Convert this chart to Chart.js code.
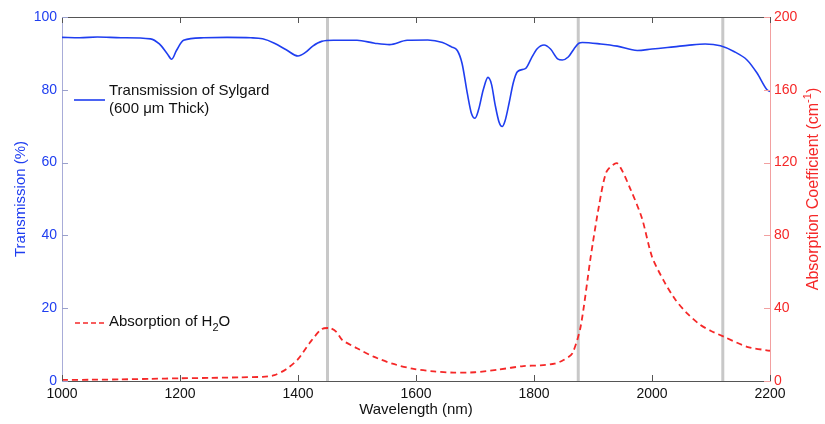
<!DOCTYPE html>
<html>
<head>
<meta charset="utf-8">
<script src="https://cdn.jsdelivr.net/npm/chart.js@4.4.1/dist/chart.umd.min.js"></script>
<style>
  html, body { margin: 0; padding: 0; background: #fff; }
  #wrap { width: 825px; height: 424px; }
</style>
</head>
<body>
<div id="wrap"><canvas id="chart" width="825" height="424"></canvas></div>
<script>
// transmission of Sylgard (left axis, %)
const wlTrans = [1000, 1030, 1060, 1100, 1150, 1165, 1178, 1186, 1194, 1206, 1240, 1280, 1320, 1340, 1360, 1380, 1400, 1412, 1425, 1440,
  1460, 1500, 1530, 1555, 1585, 1620, 1645, 1660, 1670, 1678, 1687, 1694, 1700, 1706, 1714, 1722, 1728, 1734, 1741, 1746,
  1751, 1758, 1765, 1772, 1786, 1795, 1805, 1817, 1828, 1840, 1848, 1858, 1868, 1876, 1882, 1913, 1941, 1975, 2000, 2026,
  2060, 2090, 2116, 2138, 2161, 2178, 2195, 2200];
const transmission = [94.4, 94.3, 94.5, 94.3, 94.0, 92.6, 90.0, 88.4, 90.8, 93.6, 94.3, 94.4, 94.3, 94.0, 92.8, 91.0, 89.3, 90.2, 92.0, 93.3,
  93.6, 93.6, 92.8, 92.4, 93.6, 93.7, 93.0, 91.8, 90.8, 87.3, 79.0, 73.5, 72.2, 74.5, 80.0, 83.4, 81.5, 76.0, 71.0, 69.9,
  71.5, 76.5, 82.0, 85.0, 85.9, 88.5, 91.2, 92.3, 91.2, 88.5, 88.2, 89.0, 91.3, 92.8, 93.0, 92.6, 92.0, 90.8, 91.2, 91.6,
  92.2, 92.6, 92.1, 90.6, 88.2, 84.6, 80.0, 79.5];

// absorption of water (right axis, cm^-1)
const wlAbs = [1000, 1050, 1100, 1150, 1200, 1250, 1300, 1340, 1360, 1380, 1400, 1420, 1440, 1455, 1465, 1475, 1500, 1528, 1560, 1596,
  1630, 1664, 1700, 1740, 1782, 1811, 1835, 1850, 1865, 1879, 1896, 1910, 1923, 1941, 1964, 1983, 2000, 2020, 2040, 2060,
  2082, 2100, 2122, 2161, 2200];
const absorption = [0.6, 0.7, 0.9, 1.2, 1.5, 1.7, 2.0, 2.3, 3.2, 6.5, 12.0, 21.0, 28.5, 29.0, 27.0, 22.5, 18.0, 13.4, 9.5, 6.6,
  5.3, 4.6, 4.8, 6.3, 8.2, 8.6, 9.5, 11.5, 15.2, 29.8, 68.0, 96.0, 115.0, 119.6, 105.0, 89.4, 68.3, 55.0, 44.5, 37.0,
  30.8, 27.5, 24.3, 18.8, 16.6];

// grey marker lines (nm)
const markers = [1450, 1875, 2120];

const xTicks = [1000, 1200, 1400, 1600, 1800, 2000, 2200];
const leftTicks = [0, 20, 40, 60, 80, 100];
const rightTicks = [0, 40, 80, 120, 160, 200];

const BLUE = '#1f3ef0';
const RED = '#f52828';
const FONT = "'Liberation Sans', Arial, sans-serif";

const toPts = (xs, ys) => xs.map((x, i) => ({ x, y: ys[i] }));

const markerLines = {
  id: 'markerLines',
  beforeDatasetsDraw(chart) {
    const { ctx, chartArea: a, scales: { x } } = chart;
    ctx.save();
    ctx.strokeStyle = '#c8c8c8';
    ctx.lineWidth = 3;
    markers.forEach((m) => {
      const px = x.getPixelForValue(m);
      ctx.beginPath();
      ctx.moveTo(px, a.top);
      ctx.lineTo(px, a.bottom);
      ctx.stroke();
    });
    ctx.restore();
  }
};

const inwardTicks = {
  id: 'inwardTicks',
  afterDraw(chart) {
    const { ctx, chartArea: a, scales: { x, y, y2 } } = chart;
    ctx.save();
    ctx.lineWidth = 1;
    ctx.strokeStyle = '#555';
    ctx.beginPath();
    ctx.moveTo(a.left, a.top + 0.5);
    ctx.lineTo(a.right, a.top + 0.5);
    ctx.stroke();
    xTicks.forEach((v) => {
      const px = Math.round(x.getPixelForValue(v)) + 0.5;
      ctx.beginPath();
      ctx.moveTo(px, a.bottom); ctx.lineTo(px, a.bottom - 6);
      ctx.moveTo(px, a.top); ctx.lineTo(px, a.top + 6);
      ctx.stroke();
    });
    ctx.strokeStyle = '#9aa0cc';
    leftTicks.forEach((v) => {
      const py = Math.round(y.getPixelForValue(v)) + 0.5;
      ctx.beginPath();
      ctx.moveTo(a.left, py); ctx.lineTo(a.left + 6, py);
      ctx.stroke();
    });
    ctx.strokeStyle = '#f2a0a0';
    rightTicks.forEach((v) => {
      const py = Math.round(y2.getPixelForValue(v)) + 0.5;
      ctx.beginPath();
      ctx.moveTo(a.right, py); ctx.lineTo(a.right - 6, py);
      ctx.stroke();
    });
    ctx.restore();
  }
};

// legend entries and the right axis title (needs sub/superscripts)
const textBits = {
  id: 'textBits',
  afterDraw(chart) {
    const { ctx } = chart;
    ctx.save();
    ctx.font = '15px ' + FONT;
    ctx.fillStyle = '#111';
    ctx.textBaseline = 'middle';

    ctx.strokeStyle = BLUE;
    ctx.lineWidth = 1.6;
    ctx.beginPath(); ctx.moveTo(74, 100); ctx.lineTo(105, 100); ctx.stroke();
    ctx.fillText('Transmission of Sylgard', 109, 91);
    ctx.fillText('(600 \u03bcm Thick)', 109, 109);

    ctx.strokeStyle = RED;
    ctx.setLineDash([5, 3]);
    ctx.beginPath(); ctx.moveTo(75, 323); ctx.lineTo(105, 323); ctx.stroke();
    ctx.setLineDash([]);
    const t1 = 'Absorption of H';
    ctx.fillText(t1, 109, 322);
    let w = ctx.measureText(t1).width;
    ctx.font = '11px ' + FONT;
    ctx.fillText('2', 109 + w, 328);
    w += ctx.measureText('2').width;
    ctx.font = '15px ' + FONT;
    ctx.fillText('O', 109 + w, 322);

    // right axis title, reading bottom to top
    const parts = [['Absorption Coefficient (cm', 16, 0], ['-1', 11, -6], [')', 16, 0]];
    let total = 0;
    parts.forEach(([t, s]) => { ctx.font = s + 'px ' + FONT; total += ctx.measureText(t).width; });
    ctx.translate(814, 189);
    ctx.rotate(-Math.PI / 2);
    ctx.fillStyle = RED;
    let cx = -total / 2;
    parts.forEach(([t, s, dy]) => {
      ctx.font = s + 'px ' + FONT;
      ctx.fillText(t, cx, dy);
      cx += ctx.measureText(t).width;
    });
    ctx.restore();
  }
};

new Chart(document.getElementById('chart'), {
  type: 'line',
  data: {
    datasets: [
      {
        label: 'Transmission of Sylgard',
        data: toPts(wlTrans, transmission),
        yAxisID: 'y',
        borderColor: BLUE,
        borderWidth: 1.6,
        pointRadius: 0,
        cubicInterpolationMode: 'monotone'
      },
      {
        label: 'Absorption of H2O',
        data: toPts(wlAbs, absorption),
        yAxisID: 'y2',
        borderColor: RED,
        borderWidth: 1.8,
        borderDash: [6, 4],
        pointRadius: 0,
        tension: 0.25
      }
    ]
  },
  options: {
    responsive: false,
    animation: false,
    layout: { padding: { top: 17, right: 0, left: 0, bottom: 0 } },
    plugins: { legend: { display: false }, tooltip: { enabled: false } },
    scales: {
      x: {
        type: 'linear',
        min: 1000,
        max: 2200,
        afterFit: (s) => { s.height = 43; },
        afterBuildTicks: (s) => { s.ticks = xTicks.map((v) => ({ value: v })); },
        ticks: { color: '#111', font: { family: FONT, size: 14 }, padding: 5, maxRotation: 0, callback: (v) => String(v) },
        grid: { drawOnChartArea: false, drawTicks: false },
        border: { color: '#555' },
        title: { display: true, text: 'Wavelength (nm)', color: '#111', font: { family: FONT, size: 15 }, padding: { top: 0, bottom: 5 } }
      },
      y: {
        position: 'left',
        min: 0,
        max: 100,
        afterFit: (s) => { s.width = 62; },
        afterBuildTicks: (s) => { s.ticks = leftTicks.map((v) => ({ value: v })); },
        ticks: { color: BLUE, font: { family: FONT, size: 14 }, padding: 5 },
        grid: { drawOnChartArea: false, drawTicks: false },
        border: { color: '#a8acd8' },
        title: { display: true, text: 'Transmission (%)', color: BLUE, font: { family: FONT, size: 15 }, padding: { top: 12, bottom: 0 } }
      },
      y2: {
        position: 'right',
        min: 0,
        max: 200,
        afterFit: (s) => { s.width = 55; },
        afterBuildTicks: (s) => { s.ticks = rightTicks.map((v) => ({ value: v })); },
        ticks: { color: RED, font: { family: FONT, size: 14 }, padding: 4 },
        grid: { drawOnChartArea: false, drawTicks: false },
        border: { color: '#f2a0a0' }
      }
    }
  },
  plugins: [markerLines, inwardTicks, textBits]
});
</script>
</body>
</html>
